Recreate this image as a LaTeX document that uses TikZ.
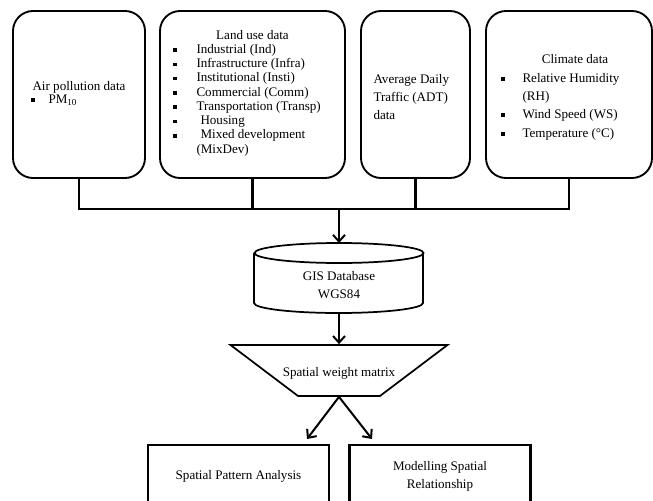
\documentclass[tikz,border=0pt]{standalone}
\usepackage{fontspec}
\setmainfont{Liberation Serif}
\usetikzlibrary{shapes.geometric,arrows.meta}

\tikzset{every picture/.style={line width=0.75pt}}
\tikzset{
  txt/.style={font=\fontsize{9.8}{10.7}\selectfont, inner sep=0.75pt},
  databox/.style={draw, line width=1.4pt, rounded corners=15pt, minimum height=125.25pt},
  resbox/.style={draw, line width=2pt, minimum width=135.75pt, minimum height=46.5pt, align=center, txt, font=\fontsize{9.8}{13.5}\selectfont},
  sqb/.style={fill, inner sep=0pt, minimum size=2.6pt},
  busline/.style={line width=2.2pt},
  arr/.style={line width=1.5pt, -{Straight Barb[length=5pt,width=9pt,line width=1.5pt]}},
}

\begin{document}
\begin{tikzpicture}[x=0.75pt,y=0.75pt,yscale=-1,xscale=1]
    \useasboundingbox (0,0) rectangle (653,500);
    \clip (0,0) rectangle (653,500);

    %Shape: Rounded Rectangles (data sources)
    \node[databox, minimum width=99pt] (air) at (79,94.5) {};
    \node[databox, minimum width=138.75pt] (land) at (252.5,94.5) {};
    \node[databox, minimum width=81.75pt] (adt) at (415.5,94.5) {};
    \node[databox, minimum width=124.5pt] (clim) at (569,94.5) {};

    % Text Node
    \node[txt] (airt) at (79,87) {Air pollution data};
    \node[sqb] (pmb) at (33,100) {};
    \node[txt, anchor=west] (pm) at (47,100) {PM\textsubscript{10}};

    % Text Node
    \node[txt] (landt) at (252.5,35) {Land use data};
    \foreach \item [count=\i] in {Industrial (Ind), Infrastructure (Infra), Institutional (Insti), Commercial (Comm), Transportation (Transp), \hspace{3pt}Housing, \hspace{3pt}Mixed development}{
      \node[sqb] (lub\i) at (175,{50+14.3*(\i-1)}) {};
      \node[txt, anchor=west] (lu\i) at (195,{50+14.3*(\i-1)}) {\item};
    }
    \node[txt, anchor=west] (lu8) at (195,150) {(MixDev)};

    % Text Node
    \node[txt, anchor=west, align=left, font=\fontsize{9.8}{13.5}\selectfont] (adtt) at (372,97) {Average Daily\\Traffic (ADT)\\data};

    % Text Node
    \node[txt] (climt) at (575,59) {Climate data};
    \node[sqb] (cb1) at (503,79) {};
    \node[txt, anchor=west] (c1) at (521,79) {Relative Humidity};
    \node[txt, anchor=west] (c1b) at (521,97) {(RH)};
    \node[sqb] (cb2) at (503,115) {};
    \node[txt, anchor=west] (c2) at (521,115) {Wind Speed (WS)};
    \node[sqb] (cb3) at (503,134) {};
    \node[txt, anchor=west] (c3) at (521,134) {Temperature (°C)};

    %Straight Lines (bus)
    \coordinate (bus) at (339,209);
    \draw[busline] (air.south) -- (air.south |- bus) -- (clim.south |- bus) -- (clim.south);
    \foreach \n in {land,adt}
      \draw[busline] (\n.south) -- (\n.south |- bus);

    %Shape: Can
    \coordinate (gistop) at (339,243);
    \coordinate (gisbot) at (339,313);
    \draw[line width=1.3pt] (254,253) -- (254,303) arc[start angle=180, end angle=0, x radius=84.5, y radius=10] -- (423,253);
    \draw[line width=1.3pt] (339,253) ellipse [x radius=84.5, y radius=10];
    \node[txt, align=center, font=\fontsize{9.8}{13.5}\selectfont] (gis) at (339,285) {GIS Database\\WGS84};

    %Shape: Trapezoid
    \node[draw, line width=1.3pt, trapezium, shape border rotate=180, trapezium left angle=50.5, trapezium right angle=50.5, trapezium stretches=true, minimum width=162.75pt, minimum height=38.25pt, txt] (swm) at (339,370.5) {};
    \node[txt] (swmt) at (339,373) {Spatial weight matrix};

    %Shape: Rectangles (results)
    \node[resbox] (spa) at (238.5,476) {Spatial Pattern Analysis};
    \node[resbox] (msr) at (440,476) {Modelling Spatial\\Relationship};

    %Arrows
    \coordinate (tip1) at (307,439);
    \coordinate (tip2) at (372,439);
    \draw[arr] (bus) -- (gistop);
    \draw[arr] (gisbot) -- (swm.north);
    \draw[arr] (swm.south) -- (tip1);
    \draw[arr] (swm.south) -- (tip2);
\end{tikzpicture}
\end{document}
